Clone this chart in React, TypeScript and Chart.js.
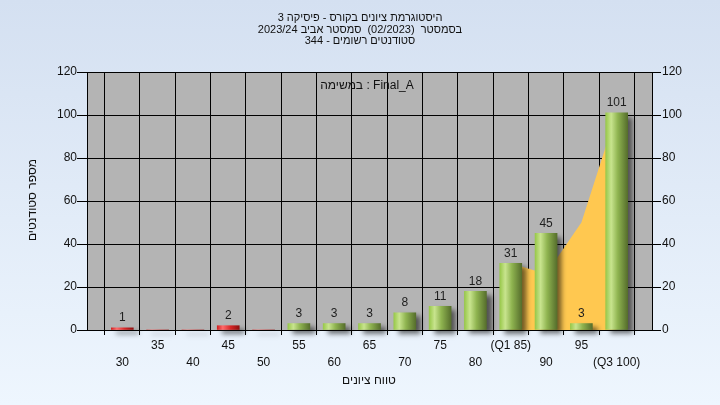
import React, { useEffect, useRef } from "react";
import { Chart, registerables } from "chart.js";

Chart.register(...registerables);

const categories = [30, 35, 40, 45, 50, 55, 60, 65, 70, 75, 80, 85, 90, 95, 100];
const counts = [1, 0, 0, 2, 0, 3, 3, 3, 8, 11, 18, 31, 45, 3, 101];
const tickLabels = ["30", "35", "40", "45", "50", "55", "60", "65", "70", "75", "80", "(Q1 85)", "90", "95", "(Q3 100)"];
const areaX = [85, 90, 95, 100];
const areaValues = [31, 26, 50, 101];
const yTicks = [0, 20, 40, 60, 80, 100, 120];
const passMark = 55;

const titleLines = [
  "היסטוגרמת ציונים בקורס - פיסיקה 3",
  "בסמסטר  (02/2023)  סמסטר אביב 2023/24",
  "סטודנטים רשומים - 344",
];
const taskLabel = "במשימה : Final_A";
const xTitle = "טווח ציונים";
const yTitle = "מספר סטודנטים";

const FAMILY = "'Liberation Sans', Arial, sans-serif";

function makeGradient(ctx: CanvasRenderingContext2D, cx: number, half: number, fail: boolean) {
  const g = ctx.createLinearGradient(cx - half, 0, cx + half, 0);
  if (fail) {
    g.addColorStop(0, "#d02020");
    g.addColorStop(0.25, "#ff6a6a");
    g.addColorStop(0.6, "#d82828");
    g.addColorStop(1, "#901010");
  } else {
    g.addColorStop(0, "#98c84a");
    g.addColorStop(0.25, "#c8e48e");
    g.addColorStop(0.55, "#8fb450");
    g.addColorStop(1, "#566e2c");
  }
  return g;
}

export default function App() {
  const ref = useRef<HTMLCanvasElement | null>(null);

  useEffect(() => {
    const canvas = ref.current;
    if (!canvas) return;

    const barFill = (c: any) => {
      const idx = c.dataIndex ?? 0;
      const fail = categories[idx] < passMark;
      return fail ? "#d83030" : "#98c050";
    };

    const bgPlugin = {
      id: "bgPlugin",
      beforeDraw(chart: any) {
        const { ctx, chartArea: a } = chart;
        ctx.save();
        ctx.fillStyle = "#b4b4b4";
        ctx.fillRect(a.left, a.top, a.right - a.left, a.bottom - a.top);
        ctx.restore();
      },
    };

    const shadowPlugin = {
      id: "shadowPlugin",
      beforeDatasetDraw(chart: any, args: any) {
        if (args.index !== 0) return;
        const ctx = chart.ctx;
        const meta = chart.getDatasetMeta(0);
        meta.data.forEach((el: any, i: number) => {
          const p = el.getProps(["x", "width"], true);
          if (!isFinite(p.x) || !isFinite(p.width)) return;
          try {
            el.options.backgroundColor = makeGradient(ctx, p.x, p.width / 2, categories[i] < passMark);
          } catch (e) {
            /* ignore */
          }
        });
        ctx.save();
        ctx.shadowColor = "rgba(0,0,0,0.55)";
        ctx.shadowBlur = 5;
        ctx.shadowOffsetX = 5;
        ctx.shadowOffsetY = 4;
      },
      afterDatasetDraw(chart: any, args: any) {
        if (args.index !== 0) return;
        chart.ctx.restore();
      },
    };

    const textPlugin = {
      id: "textPlugin",
      afterDatasetsDraw(chart: any) {
        const ctx = chart.ctx;
        const meta = chart.getDatasetMeta(0);
        ctx.save();
        ctx.font = `12px ${FAMILY}`;
        ctx.textAlign = "center";
        ctx.textBaseline = "bottom";
        meta.data.forEach((el: any, i: number) => {
          const v = counts[i];
          if (!v) return;
          const p = el.getProps(["x", "y"], true);
          ctx.fillStyle = "#1e1e1e";
          ctx.fillText(String(v), p.x, p.y - 4);
        });
        ctx.restore();
      },
      afterDraw(chart: any) {
        const ctx = chart.ctx;
        ctx.save();
        ctx.fillStyle = "#111";
        ctx.textAlign = "center";
        ctx.textBaseline = "middle";
        ctx.font = `11px ${FAMILY}`;
        const ys = [18, 29.5, 41];
        titleLines.forEach((t, i) => ctx.fillText(t, 360, ys[i]));
        ctx.font = `12px ${FAMILY}`;
        ctx.fillText(taskLabel, 367, 86);
        ctx.fillText(xTitle, 369, 381);
        ctx.translate(33, 200);
        ctx.rotate(-Math.PI / 2);
        ctx.fillText(yTitle, 0, 0);
        ctx.restore();
      },
    };

    const tickFont = { size: 12, family: FAMILY };

    const chart = new Chart(canvas, {
      type: "bar",
      data: {
        datasets: [
          {
            type: "bar",
            data: categories.map((c, i) => ({ x: c, y: counts[i] })),
            backgroundColor: barFill,
            borderWidth: 0,
            barThickness: 22,
            order: 0,
            clip: false as any,
          },
          {
            type: "line",
            data: areaX.map((c, i) => ({ x: c, y: areaValues[i] })),
            backgroundColor: "#ffc850",
            borderWidth: 0,
            borderColor: "rgba(0,0,0,0)",
            pointRadius: 0,
            fill: "origin",
            tension: 0,
            order: 1,
          } as any,
        ],
      },
      options: {
        animation: false,
        responsive: false,
        maintainAspectRatio: false,
        layout: { padding: { top: 72, left: 0, right: 0, bottom: 0 } },
        plugins: {
          legend: { display: false },
          tooltip: { enabled: false },
          title: { display: false },
        },
        scales: {
          x: {
            type: "linear",
            min: 25,
            max: 105,
            offset: false,
            afterFit: (s: any) => {
              s.height = 75;
            },
            ticks: {
              stepSize: 5,
              autoSkip: false,
              maxRotation: 0,
              minRotation: 0,
              padding: 2,
              color: "#111",
              font: { ...tickFont, lineHeight: 1.4 },
              callback: (v: any) => {
                const idx = categories.indexOf(Number(v));
                if (idx < 0) return "";
                const label = tickLabels[idx];
                return idx % 2 === 0 ? ["", label] : [label, ""];
              },
            },
            grid: { color: "#000", lineWidth: 1, tickLength: 5 },
            border: { color: "#000", z: 1 },
          },
          y: {
            position: "left",
            min: 0,
            max: 120,
            afterFit: (s: any) => {
              s.width = 87;
            },
            afterBuildTicks: (s: any) => {
              s.ticks = yTicks.map((v) => ({ value: v }));
            },
            ticks: { padding: 0, color: "#111", font: tickFont },
            grid: { color: "#000", lineWidth: 1, tickLength: 10 },
            border: { color: "#000", z: 1 },
          },
          y2: {
            position: "right",
            min: 0,
            max: 120,
            afterFit: (s: any) => {
              s.width = 68;
            },
            afterBuildTicks: (s: any) => {
              s.ticks = yTicks.map((v) => ({ value: v }));
            },
            ticks: { padding: 1, color: "#111", font: tickFont },
            grid: { drawOnChartArea: false, color: "#000", lineWidth: 1, tickLength: 9 },
            border: { color: "#000", z: 1 },
          },
        },
      } as any,
      plugins: [bgPlugin, shadowPlugin, textPlugin],
    });

    return () => chart.destroy();
  }, []);

  return (
    <div
      style={{
        position: "fixed",
        left: 0,
        top: 0,
        width: 720,
        height: 405,
        background: "linear-gradient(to bottom, #d4e0f1, #eef6fe)",
      }}
    >
      <canvas ref={ref} width={720} height={405} style={{ display: "block", width: 720, height: 405 }} />
    </div>
  );
}
